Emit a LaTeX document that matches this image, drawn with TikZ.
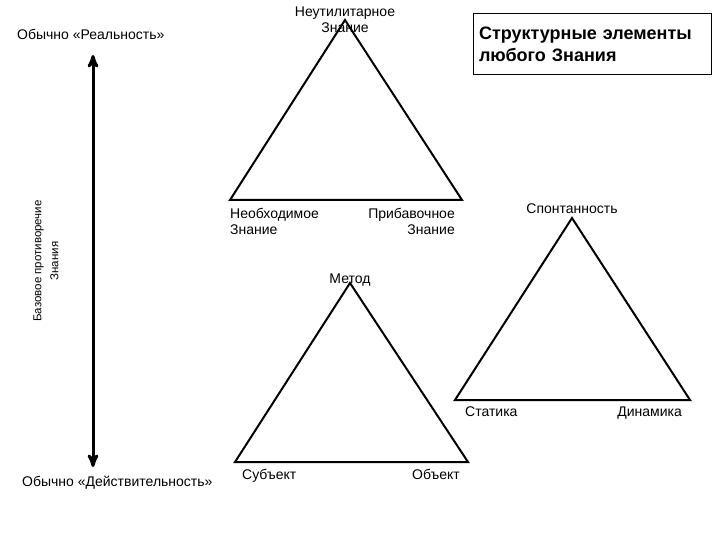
\documentclass[tikz,border=0pt]{standalone}
\usepackage{fontspec}
\setmainfont{Liberation Sans}
\usetikzlibrary{positioning,arrows}
\tikzset{
	>=stealth'
}

\begin{document}
\begin{tikzpicture}[
x = 1pt,
y = -1pt,
node distance = 2pt,
every node/.style = {
	font = \fontsize{14}{16}\selectfont,
	inner sep = 0pt
},
side/.style = {
	draw,
	line width = 2pt,
	line join = miter
},
axis/.style = {
	<->,
	line width = 3pt
},
title/.style = {
	draw,
	line width = 0.8pt,
	font = \fontsize{18}{22}\bfseries\selectfont,
	align = left,
	text width = 226pt,
	inner xsep = 6pt,
	minimum height = 61pt
}
]
\useasboundingbox (0,0) rectangle (720,540);

% corners
\coordinate (knowTop) at (345,20);
\coordinate (knowLeft) at (230,200);
\coordinate (knowRight) at (462,200);
\coordinate (spontTop) at (572,218);
\coordinate (spontLeft) at (455,400);
\coordinate (spontRight) at (690,400);
\coordinate (methodTop) at (350,283);
\coordinate (methodLeft) at (235,462);
\coordinate (methodRight) at (468,462);
\coordinate (axisTop) at (93,55);
\coordinate (axisBottom) at (93,467);

\draw [side] (knowTop) -- (knowLeft) -- (knowRight) -- cycle;
\draw [side] (spontTop) -- (spontLeft) -- (spontRight) -- cycle;
\draw [side] (methodTop) -- (methodLeft) -- (methodRight) -- cycle;
\draw [axis] (axisTop) -- (axisBottom);

\node (title) [title] at (592,44) {Структурные элементы\\любого Знания};

\node (neutil) [align=center] at (knowTop) {Неутилитарное\\Знание};
\node (neobh) [below right = 8pt and 0pt of knowLeft, align=left] {Необходимое\\Знание};
\node (pribav) [below left = 8pt and 7pt of knowRight, align=right] {Прибавочное\\Знание};

\node (spont) [above = 4pt of spontTop] {Спонтанность};
\node (statika) [below right = 7pt and 10pt of spontLeft] {Статика};
\node (dinamika) [below left = 7pt and 8pt of spontRight] {Динамика};

\node (metod) [above = -3pt of methodTop] {Метод};
\node (subj) [below right = 7pt and 7pt of methodLeft] {Субъект};
\node (obj) [below left = 7pt and 8pt of methodRight] {Объект};

\node (real) [anchor=west] at (17,34) {Обычно «Реальность»};
\node (deistv) [anchor=west] at (22,483) {Обычно «Действительность»};
\node (protiv) [rotate=90, align=center, font=\fontsize{11.5}{17}\selectfont] at (46,261) {Базовое противоречие\\Знания};

\end{tikzpicture}
\end{document}
